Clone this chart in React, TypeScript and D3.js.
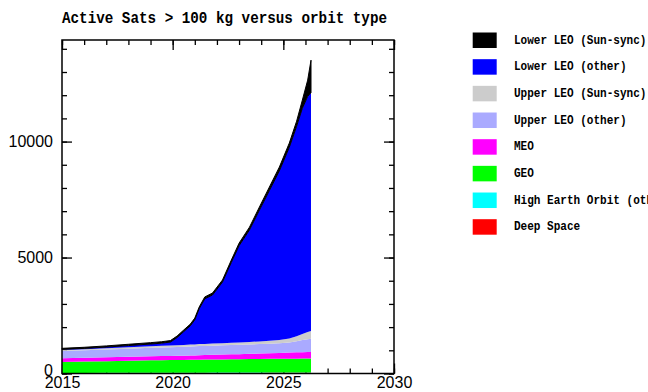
import { useRef, useEffect } from 'react'
import * as d3 from 'd3'

// decimal years of the sampled points
const years = [2015, 2016, 2017, 2018, 2019, 2019.5, 2019.9, 2020.2, 2020.5, 2020.8, 2021.0, 2021.2, 2021.45, 2021.8, 2022.25, 2022.65, 2023.0, 2023.47, 2023.92, 2024.37, 2024.82, 2025.27, 2025.6, 2025.86, 2026.1, 2026.25]

// satellite counts per orbit class (stacked bottom to top)
const deepSpace = [15, 16, 17, 18, 19, 20, 20, 21, 21, 22, 22, 23, 23, 24, 24, 25, 25, 26, 26, 27, 27, 28, 28, 28, 29, 29]
const highEarth = [10, 10, 11, 11, 12, 12, 12, 12, 13, 13, 13, 13, 13, 14, 14, 14, 14, 15, 15, 15, 15, 15, 15, 16, 16, 16]
const geo = [475, 490, 505, 520, 535, 540, 545, 548, 550, 553, 556, 560, 563, 567, 571, 575, 578, 582, 586, 590, 593, 596, 598, 600, 601, 602]
const meo = [160, 163, 166, 170, 175, 178, 180, 182, 185, 188, 190, 193, 196, 200, 206, 212, 218, 225, 232, 240, 250, 262, 270, 276, 280, 282]
const upperLeoOther = [310, 322, 335, 350, 365, 372, 378, 382, 385, 388, 390, 392, 394, 396, 398, 400, 402, 405, 408, 412, 418, 440, 480, 520, 550, 565]
const upperLeoSso = [45, 50, 55, 60, 67, 71, 75, 78, 80, 82, 84, 86, 88, 90, 94, 98, 102, 108, 115, 125, 140, 170, 210, 260, 310, 335]
const lowerLeoOther = [25, 31, 49, 75, 97, 115, 146, 326, 573, 814, 1063, 1528, 1943, 2094, 2633, 3466, 4171, 4829, 5663, 6481, 7292, 8244, 9059, 9740, 10164, 10281]
const lowerLeoSso = [45, 48, 52, 56, 60, 62, 64, 66, 68, 70, 72, 75, 80, 85, 90, 100, 110, 120, 135, 150, 165, 180, 220, 350, 700, 1400]

const seriesNames = ['Deep Space', 'High Earth Orbit (other)', 'GEO', 'MEO', 'Upper LEO (other)', 'Upper LEO (Sun-sync)', 'Lower LEO (other)', 'Lower LEO (Sun-sync)']
const seriesValues = [deepSpace, highEarth, geo, meo, upperLeoOther, upperLeoSso, lowerLeoOther, lowerLeoSso]
const seriesColors = ['#ff0000', '#00ffff', '#00ff00', '#ff00ff', '#aaaaff', '#cccccc', '#0000ff', '#000000']

const xMajorTicks = [2015, 2020, 2025, 2030]
const yMajorTicks = [0, 5000, 10000]

const title = 'Active Sats > 100 kg versus orbit type'

const W = 648
const H = 392
const margin = { top: 40, right: 254, bottom: 18.5, left: 62 }

export default function App() {
  const svgRef = useRef<SVGSVGElement>(null)

  useEffect(() => {
    if (!svgRef.current) return
    const svg = d3.select(svgRef.current)
    svg.selectAll('*').remove()

    const x = d3.scaleLinear().domain([2015, 2030]).range([margin.left, W - margin.right])
    const y = d3.scaleLinear().domain([0, 14380]).range([H - margin.bottom, margin.top])

    const rows = years.map((yr, i) => {
      const row: Record<string, number> = { year: yr }
      seriesNames.forEach((n, k) => { row[n] = seriesValues[k][i] })
      return row
    })
    const stacked = d3.stack<Record<string, number>>().keys(seriesNames)(rows)

    // ticks (inward, all four sides)
    const tickFont = (g: d3.Selection<SVGGElement, unknown, null, undefined>) => {
      g.select('.domain').remove()
      g.selectAll('line').attr('stroke', '#000').attr('stroke-width', 1.3)
      g.selectAll('text')
        .attr('font-family', '"Liberation Sans", Arial, sans-serif')
        .attr('font-size', 16)
        .attr('fill', '#000')
    }
    const yMinor = d3.range(0, 15000, 1000)
    const xMinor = d3.range(2015, 2031, 1)

    svg.append('g').attr('transform', `translate(0,${y(0)})`)
      .call(d3.axisBottom(x).tickValues(xMinor).tickSize(-5).tickFormat(() => '')).call(tickFont)
    svg.append('g').attr('transform', `translate(0,${y(0)})`)
      .call(d3.axisBottom(x).tickValues(xMajorTicks).tickSize(-10).tickPadding(3.5).tickFormat(d3.format('d'))).call(tickFont)
    svg.append('g').attr('transform', `translate(0,${margin.top})`)
      .call(d3.axisTop(x).tickValues(xMinor).tickSize(-5).tickFormat(() => '')).call(tickFont)
    svg.append('g').attr('transform', `translate(0,${margin.top})`)
      .call(d3.axisTop(x).tickValues(xMajorTicks).tickSize(-10).tickFormat(() => '')).call(tickFont)
    svg.append('g').attr('transform', `translate(${margin.left},0)`)
      .call(d3.axisLeft(y).tickValues(yMinor).tickSize(-5).tickFormat(() => '')).call(tickFont)
    const yLabels = svg.append('g').attr('transform', `translate(${margin.left},0)`)
      .call(d3.axisLeft(y).tickValues(yMajorTicks).tickSize(-10).tickPadding(9).tickFormat(d3.format('d'))).call(tickFont)
    // the zero label sits a little above its tick, clear of the year below
    yLabels.selectAll<SVGTextElement, number>('text').filter(d => d === 0).attr('y', -3.5)
    svg.append('g').attr('transform', `translate(${W - margin.right},0)`)
      .call(d3.axisRight(y).tickValues(yMinor).tickSize(-5).tickFormat(() => '')).call(tickFont)
    svg.append('g').attr('transform', `translate(${W - margin.right},0)`)
      .call(d3.axisRight(y).tickValues(yMajorTicks).tickSize(-10).tickFormat(() => '')).call(tickFont)

    // stacked areas
    const area = d3.area<d3.SeriesPoint<Record<string, number>>>()
      .x(d => x(d.data.year))
      .y0(d => y(d[0]))
      .y1(d => y(d[1]))

    svg.append('g')
      .selectAll('path')
      .data(stacked)
      .enter()
      .append('path')
      .attr('d', d => area(d))
      .attr('fill', (_, i) => seriesColors[i])
      .attr('stroke', (_, i) => i === seriesNames.length - 1 ? '#000' : 'none')
      .attr('stroke-width', 1)

    // frame
    svg.append('rect')
      .attr('x', margin.left)
      .attr('y', margin.top)
      .attr('width', W - margin.right - margin.left)
      .attr('height', H - margin.bottom - margin.top)
      .attr('fill', 'none')
      .attr('stroke', '#000')
      .attr('stroke-width', 1.5)

    // title
    svg.append('text')
      .attr('x', margin.left)
      .attr('y', 22.5)
      .attr('textLength', 325)
      .attr('lengthAdjust', 'spacingAndGlyphs')
      .attr('font-family', '"Liberation Mono", "DejaVu Sans Mono", monospace')
      .attr('font-weight', 'bold')
      .attr('font-size', 16)
      .attr('fill', '#000')
      .text(title)

    // legend (top to bottom, reversed stack order)
    const legendItems = seriesNames.map((n, i) => ({ name: n, color: seriesColors[i] })).reverse()
    const legend = svg.append('g').attr('class', 'legend')
    legendItems.forEach((item, i) => {
      const cy = 40.3 + i * 26.67
      legend.append('rect')
        .attr('x', 472.7)
        .attr('y', cy - 7.8)
        .attr('width', 24)
        .attr('height', 15.5)
        .attr('fill', item.color)
      legend.append('text')
        .attr('transform', `translate(514,${cy}) scale(0.85,1)`)
        .attr('dominant-baseline', 'central')
        .attr('font-family', '"Liberation Mono", "DejaVu Sans Mono", monospace')
        .attr('font-weight', 'bold')
        .attr('font-size', 13)
        .attr('fill', '#000')
        .text(item.name)
    })
  }, [])

  return (
    <div>
      <style>{'body{margin:0}'}</style>
      <svg ref={svgRef} width={W} height={H} style={{ display: 'block', background: '#fff' }} />
    </div>
  )
}
